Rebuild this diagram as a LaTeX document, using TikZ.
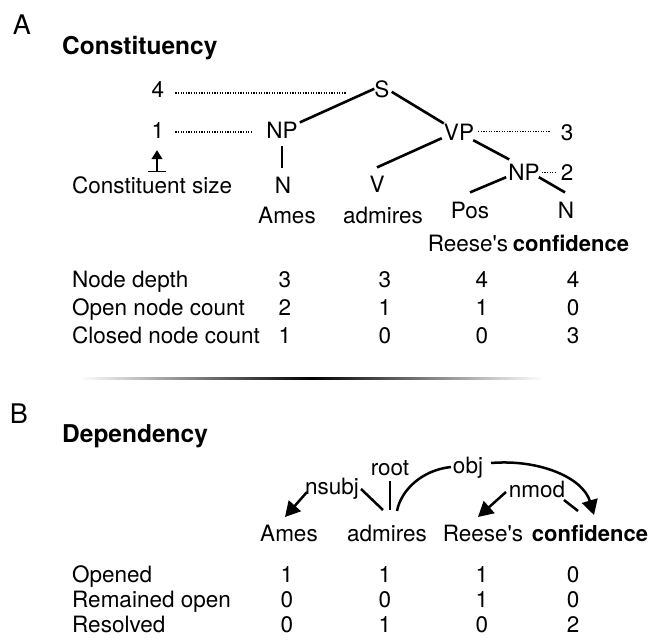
\documentclass[tikz,border=0pt]{standalone}
\usepackage{fontspec}
\setmainfont{TeX Gyre Heros}
\usetikzlibrary{calc,arrows.meta}
\begin{document}
\begin{tikzpicture}[x=1pt,y=-1pt,
  txt/.style={inner sep=0pt, font=\fontsize{22.5}{26}\selectfont, anchor=base},
  txtb/.style={txt, font=\fontsize{22}{26}\selectfont\bfseries},
  lbl/.style={txt, anchor=base west},
  ttl/.style={inner sep=0pt, font=\fontsize{24.5}{28}\selectfont\bfseries, anchor=base west},
  big/.style={inner sep=0pt, font=\fontsize{27}{30}\selectfont, anchor=base},
  edge/.style={line width=2.6pt},
  dots/.style={line width=1.4pt, dash pattern=on 1.1pt off 1.5pt},
  dep/.style={line width=2.5pt},
  deparrow/.style={dep, -{Triangle[length=15pt,width=16pt]}},
  sizearrow/.style={line width=1.4pt, {Bar[width=18pt,line width=1.4pt]}-{Triangle[length=9pt,width=11pt]}}
]
\useasboundingbox (0,0) rectangle (651,642);

% ---------------- Panel A ----------------
\node[big] (lA) at (22,35) {A};
\node[ttl] (tA) at (62,55) {Constituency};

\node[txt] (four) at (158,98) {4};
\node[txt] (S) at (382,97) {S};
\node[txt] (one) at (158,138) {1};
\node[txt] (NPa) at (282,138) {NP};
\node[txt] (VP) at (459,140) {VP};
\node[txt] (three) at (567,140) {3};
\node[txt] (NPb) at (524,180) {NP};
\node[txt] (two) at (567,180) {2};
\node[lbl] (cs) at (72,193) {Constituent size};
\node[txt] (Na) at (283,193) {N};
\node[txt] (V) at (377,192) {V};
\node[txt] (Pos) at (470,218) {Pos};
\node[txt] (Nb) at (566,218) {N};
\node[txt] (wA1) at (287,223) {Ames};
\node[txt] (wA2) at (383,223) {admires};
\node[txt] (wA3) at (468,251) {Reese\textquotesingle s};
\node[txtb] (wA4) at (571,251) {confidence};

% tree edges
\draw[edge] (S.west) -- ($(NPa.north east)+(2,1)$);
\draw[edge] ($(S.east)+(2,3)$) -- (VP.north west);
\draw[edge, shorten <=8pt, shorten >=8pt] (NPa.south) -- (NPa.south |- Na.north);
\draw[edge] ($(VP.south west)+(-2,-2)$) -- ($(V.north)+(0,-8)$);
\draw[edge] ($(VP.south east)+(-1,0)$) -- ($(NPb.north west)+(1,-4)$);
\draw[edge] ($(NPb.south west)+(-2,-3)$) -- ($(Pos.north)+(0,-9)$);
\draw[edge] ($(NPb.south east)+(-1,-3)$) -- ($(Nb.north)+(-1,-9)$);

% dotted guides
\draw[dots] ($(four.east)+(11,3)$) -- ($(four.east -| S.west)+(-28,3)$);
\draw[dots] ($(one.east)+(11,2)$) -- ($(one.east -| NPa.west)+(-13,2)$);
\draw[dots] ($(VP.east)+(4,0)$) -- ($(VP.east -| three.west)+(-11,0)$);
\draw[dots] ($(NPb.east)+(2,1)$) -- ($(NPb.east -| two.west)+(-5,1)$);

% constituent size arrow
\draw[sizearrow] ($(one.south)+(-1,34)$) -- ($(one.south)+(-1,12)$);

% table A
\node[lbl] (rA1) at (72,287) {Node depth};
\node[lbl] (rA2) at (72,315) {Open node count};
\node[lbl] (rA3) at (72,343) {Closed node count};
\foreach \x/\a/\b/\c [count=\i] in {285/3/2/1, 385/3/1/0, 482/4/1/0, 573/4/0/3}{
  \node[txt] (vA1\i) at (\x,287) {\a};
  \node[txt] (vA2\i) at (\x,315) {\b};
  \node[txt] (vA3\i) at (\x,343) {\c};
}

% separator
\shade[left color=white, right color=white, middle color=black] (80,377) rectangle (543,379.6);

% ---------------- Panel B ----------------
\node[big] (lB) at (19,423) {B};
\node[ttl] (tB) at (62,442) {Dependency};

\node[txt] (wB1) at (289,541) {Ames};
\node[txt] (wB2) at (387,541) {admires};
\node[txt] (wB3) at (483,541) {Reese\textquotesingle s};
\node[txtb] (wB4) at (590,541) {confidence};

\node[txt] (nsubj) at (332,494) {nsubj};
\node[txt] (root) at (390,475) {root};
\node[txt] (obj) at (468,473) {obj};
\node[txt] (nmod) at (537,497) {nmod};

\coordinate (nsL1) at (307,492);
\coordinate (nsL2) at (285,517);
\coordinate (nsR1) at (361,489);
\coordinate (nsR2) at (383,510);
\coordinate (rt1) at (390,481);
\coordinate (rt2) at (390,510);
\coordinate (obL1) at (397,511);
\coordinate (obL2) at (451,467);
\coordinate (obR1) at (491,463);
\coordinate (obR2) at (594,515);
\coordinate (nmL1) at (506,492);
\coordinate (nmL2) at (478,517);
\coordinate (nmR1) at (564,500);
\coordinate (nmR2) at (578,511);

\draw[deparrow] (nsL1) -- (nsL2);
\draw[dep] (nsR1) -- (nsR2);
\draw[dep] (rt1) -- (rt2);
\draw[dep] (obL1) .. controls (401,490) and (422,470) .. (obL2);
\draw[deparrow] (obR1) .. controls (540,459) and (583,478) .. (obR2);
\draw[deparrow] (nmL1) -- (nmL2);
\draw[dep] (nmR1) -- (nmR2);

% table B
\node[lbl] (rB1) at (72,582) {Opened};
\node[lbl] (rB2) at (72,607) {Remained open};
\node[lbl] (rB3) at (72,632) {Resolved};
\foreach \x/\a/\b/\c [count=\i] in {287/1/0/0, 385/1/0/1, 482/1/1/0, 573/0/0/2}{
  \node[txt] (vB1\i) at (\x,582) {\a};
  \node[txt] (vB2\i) at (\x,607) {\b};
  \node[txt] (vB3\i) at (\x,632) {\c};
}
\end{tikzpicture}
\end{document}
